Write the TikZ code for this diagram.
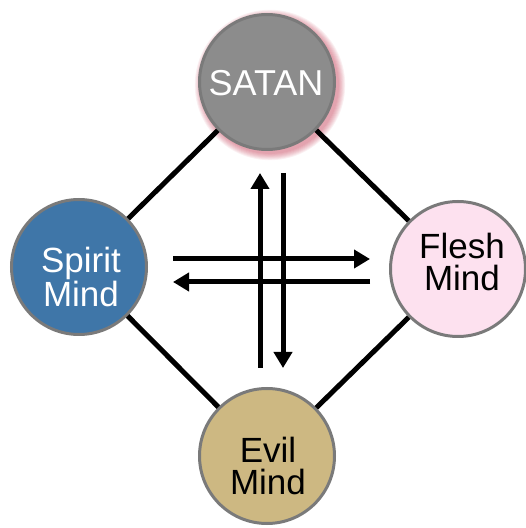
\documentclass[tikz,border=0pt]{standalone}
\usepackage{fontspec}
\setmainfont{Liberation Sans}
\usetikzlibrary{arrows.meta}
\definecolor{satanfill}{HTML}{8C8C8C}
\definecolor{rimgray}{HTML}{7A7A7A}
\definecolor{spiritfill}{HTML}{3F76A8}
\definecolor{fleshfill}{HTML}{FDE1EF}
\definecolor{evilfill}{HTML}{CDB882}
\definecolor{glowred}{HTML}{C0304A}
\tikzset{
  mind/.style={circle, draw=rimgray, line width=3pt, minimum size=135pt, inner sep=0pt},
  lbl/.style={align=center, inner sep=0pt, font=\fontsize{35}{32}\selectfont},
  edge/.style={line width=5pt, black},
  flow/.style={line width=5pt, black, -{Triangle[width=18pt,length=16pt]}}
}
\begin{document}
\begin{tikzpicture}[x=1pt,y=1pt]
\useasboundingbox (0,0) rectangle (526,528);
% glow behind SATAN
\foreach \i in {1,...,8}{
  \fill[glowred, opacity=0.07] (270,443) circle ({68+\i*0.9});
}
\node[mind, fill=satanfill] (sat) at (267,446) {};
\node[mind, fill=spiritfill] (spi) at (79,261) {};
\node[mind, fill=fleshfill] (fle) at (458,259) {};
\node[mind, fill=evilfill] (evi) at (267,72) {};
\node[lbl, font=\fontsize{36}{32}\selectfont, text=white] (sattext) at (266,445) {SATAN};
\node[lbl, text=white] (spitext) at (81,251) {Spirit\\Mind};
\node[lbl] (fletext) at (462,266) {Flesh\\Mind};
\node[lbl] (evitext) at (268,62) {Evil\\Mind};
\draw[edge] (sat) -- (spi);
\draw[edge] (sat) -- (fle);
\draw[edge] (spi) -- (evi);
\draw[edge] (fle) -- (evi);
% arrows
\coordinate (ub) at (260,160); \coordinate (ut) at (260,355);
\coordinate (dt) at (283,355); \coordinate (db) at (283,160);
\coordinate (rl) at (173,269); \coordinate (rr) at (370,269);
\coordinate (lr) at (370,246); \coordinate (ll) at (173,246);
\draw[flow] (ub) -- (ut);
\draw[flow] (dt) -- (db);
\draw[flow] (rl) -- (rr);
\draw[flow] (lr) -- (ll);
\end{tikzpicture}
\end{document}
